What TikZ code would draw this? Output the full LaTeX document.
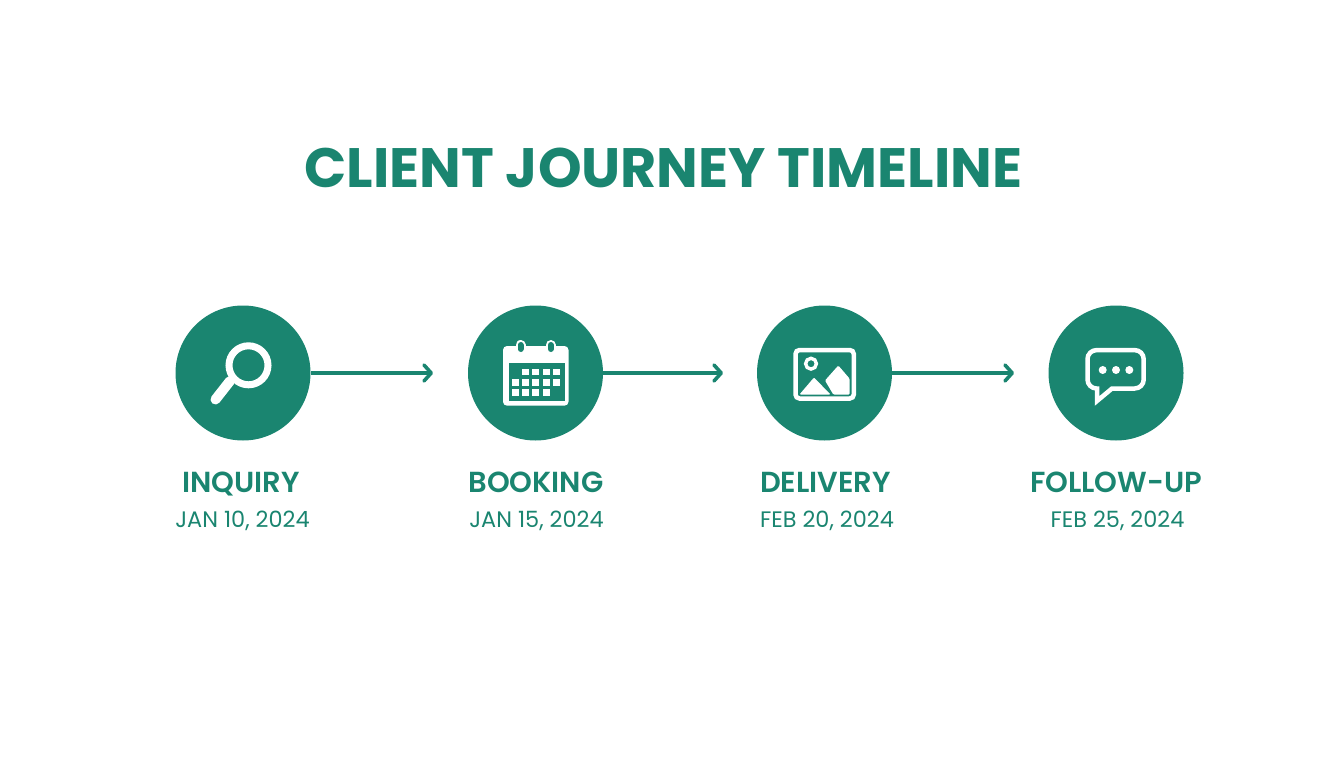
\documentclass[tikz,border=0pt]{standalone}
\usepackage{fontspec}
\setmainfont{Poppins}
\newfontfamily\semifont{Poppins SemiBold}
\usetikzlibrary{arrows.meta}

\definecolor{journeygreen}{HTML}{1A8570}

\begin{document}
\begin{tikzpicture}[
  x=0.5pt, y=0.5pt,
  stepnode/.style={circle,fill=journeygreen,minimum size=67.5pt,inner sep=0pt},
  titlenode/.style={text=journeygreen,font=\fontsize{27.75}{33}\selectfont\bfseries,inner sep=0pt,anchor=base},
  namenode/.style={text=journeygreen,font=\fontsize{14.5}{17}\selectfont\semifont,inner sep=0pt,anchor=base},
  datenode/.style={text=journeygreen,font=\fontsize{11.2}{14}\selectfont,inner sep=0pt,anchor=base},
  flowedge/.style={draw=journeygreen, line width=1.6pt, -{Straight Barb[length=3.6pt,width=8pt,line width=1.8pt,round]}},
  iconline/.style={draw=white, line width=2.25pt},
  iconfill/.style={fill=white}
]
\useasboundingbox (0,0) rectangle (1344,768);

\node[titlenode] (title) at (663.5,581) {CLIENT JOURNEY TIMELINE};

\node[stepnode] (inquiry) at (243,395) {};
\node[stepnode] (booking) at (535.5,395) {};
\node[stepnode] (delivery) at (824.5,395) {};
\node[stepnode] (followup) at (1116,395) {};

\coordinate (inquiryend) at (433,395);
\coordinate (bookingend) at (723,395);
\coordinate (deliveryend) at (1014,395);

\draw[flowedge] (inquiry) -- (inquiryend);
\draw[flowedge] (booking) -- (bookingend);
\draw[flowedge] (delivery) -- (deliveryend);

\node[namenode] (inquiryname) at (241,276) {INQUIRY};
\node[namenode] (bookingname) at (536,276) {BOOKING};
\node[namenode] (deliveryname) at (825.5,276) {DELIVERY};
\node[namenode] (followupname) at (1116,276) {FOLLOW-UP};

\node[datenode] (inquirydate) at (242.5,241) {JAN 10, 2024};
\node[datenode] (bookingdate) at (536.5,241) {JAN 15, 2024};
\node[datenode] (deliverydate) at (827,241) {FEB 20, 2024};
\node[datenode] (followupdate) at (1117.5,241) {FEB 25, 2024};

% magnifier
\begin{scope}[shift={(inquiry.center)}]
  \draw[iconline, line width=3.5pt] (5.5,7.7) circle (19.5);
  \draw[white, line width=5pt, line cap=round] (-13,-8) -- (-27.5,-26.5);
\end{scope}

% calendar
\begin{scope}[shift={(booking.center)}]
  \fill[white, rounded corners=2pt] (-32.5,-32.7) rectangle (33,27);
  \fill[journeygreen] (-27,-28) rectangle (29,10);
  \foreach \x in {-15,15.2} {
    \draw[white, line width=5pt, line cap=round] (\x,28) -- (\x,25);
    \draw[journeygreen, line width=3pt, line cap=round] (\x,28) -- (\x,24);
  }
  \foreach \x in {-10,0.3,10.6,21} {
    \fill[iconfill] (\x-3.4,1-3.4) rectangle +(6.8,6.8);
  }
  \foreach \x in {-20.3,-10,0.3,10.6,21} {
    \fill[iconfill] (\x-3.4,-9.3-3.4) rectangle +(6.8,6.8);
  }
  \foreach \x in {-20.3,-10,0.3,10.6} {
    \fill[iconfill] (\x-3.4,-19.7-3.4) rectangle +(6.8,6.8);
  }
\end{scope}

% picture
\begin{scope}[shift={(delivery.center)}]
  \draw[iconline, rounded corners=2pt] (-29,-25.5) rectangle (29.3,23);
  \draw[iconline, line width=1.7pt] (-13.5,9.3) circle (5.4);
  \fill[iconfill, rounded corners=0.5pt] (-25,-21.5) -- (-10.5,-4.5) -- (6,-21.5) -- cycle;
  \fill[iconfill, rounded corners=0.5pt] (0.5,-7.5) -- (13.8,7.5) -- (25,-5.5) -- (25,-21.5) -- (8.8,-21.5) -- cycle;
\end{scope}

% chat bubble
\begin{scope}[shift={(followup.center)}]
  \draw[iconline, line join=miter] (-4,-15.5)
    [rounded corners=4.5pt] -- (27.7,-15.5) -- (27.7,22.9) -- (-28.5,22.9) -- (-28.5,-15.5)
    [sharp corners] -- (-19,-15.5) -- (-19,-28) -- cycle;
  \foreach \x in {-13.3,0,13.3} {
    \fill[iconfill] (\x,3) circle (4);
  }
\end{scope}

\end{tikzpicture}
\end{document}
